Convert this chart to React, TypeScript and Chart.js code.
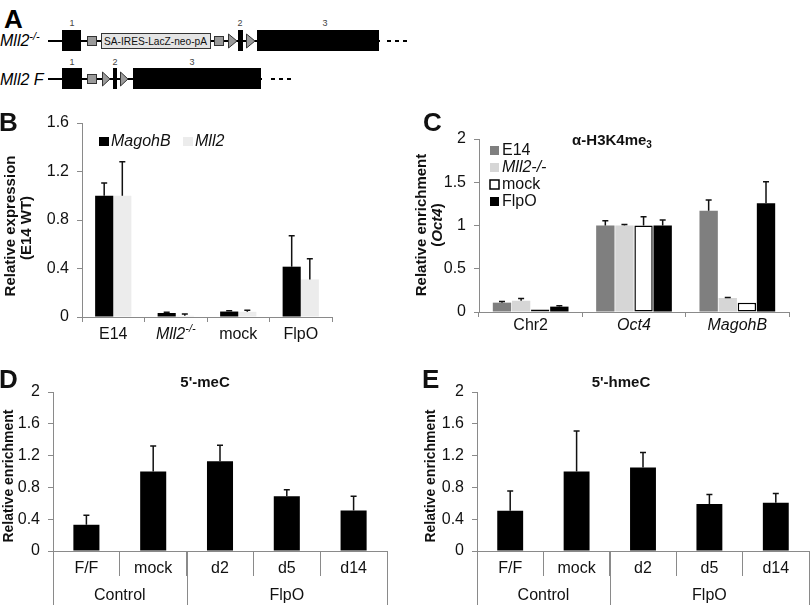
import React, { useEffect, useRef } from "react";
import { Chart, registerables } from "chart.js";
Chart.register(...registerables);

const FONT = "'Liberation Sans', Arial, Helvetica, sans-serif";
const AXIS = "#8a8a8a";
const W = 812;
const H = 605;

// ---------- Panel B ----------
const bCategories = ["E14", "Mll2-/-", "mock", "FlpO"];
const bSeriesNames = ["MagohB", "Mll2"];
const bMagohB = [1.0, 0.033, 0.045, 0.415];
const bMagohBErr = [0.105, 0.007, 0.006, 0.255];
const bMll2 = [1.0, 0.01, 0.043, 0.31];
const bMll2Err = [0.28, 0.015, 0.012, 0.17];
const bTicks = [0, 0.4, 0.8, 1.2, 1.6];

// ---------- Panel C ----------
const cCategories = ["Chr2", "Oct4", "MagohB"];
const cSeriesNames = ["E14", "Mll2-/-", "mock", "FlpO"];
const cE14 = [0.108, 1.0, 1.17];
const cE14Err = [0.012, 0.056, 0.125];
const cMll2 = [0.13, 1.0, 0.162];
const cMll2Err = [0.025, 0.012, 0.005];
const cMock = [0.03, 1.0, 0.108];
const cMockErr = [0, 0.1, 0];
const cFlpO = [0.062, 1.0, 1.257];
const cFlpOErr = [0.011, 0.064, 0.25];
const cTicks = [0, 0.5, 1, 1.5, 2];

// ---------- Panels D / E ----------
const deCategories = ["F/F", "mock", "d2", "d5", "d14"];
const deGroups = ["Control", "FlpO"];
const deGroupSizes = [2, 3];
const dValues = [0.33, 1.0, 1.13, 0.69, 0.51];
const dErr = [0.12, 0.32, 0.2, 0.08, 0.18];
const eValues = [0.505, 1.0, 1.05, 0.59, 0.606];
const eErr = [0.25, 0.51, 0.19, 0.12, 0.116];
const deTicks = [0, 0.4, 0.8, 1.2, 1.6, 2];

type Run = { t: string; italic?: boolean; bold?: boolean; size?: number; dy?: number };
type TOpts = { size: number; bold?: boolean; italic?: boolean; align?: "left" | "center" | "right"; color?: string };

function fontOf(r: Run, o: TOpts) {
  const it = r.italic ?? o.italic;
  const bd = r.bold ?? o.bold;
  return `${it ? "italic " : ""}${bd ? "bold " : ""}${r.size ?? o.size}px ${FONT}`;
}

function drawRuns(ctx: CanvasRenderingContext2D, runs: Run[], x: number, y: number, o: TOpts) {
  ctx.save();
  ctx.textBaseline = "middle";
  ctx.textAlign = "left";
  ctx.fillStyle = o.color ?? "#111";
  const widths = runs.map((r) => {
    ctx.font = fontOf(r, o);
    return ctx.measureText(r.t).width;
  });
  const total = widths.reduce((a, b) => a + b, 0);
  let cx = o.align === "center" ? x - total / 2 : o.align === "right" ? x - total : x;
  runs.forEach((r, i) => {
    ctx.font = fontOf(r, o);
    ctx.fillText(r.t, cx, y + (r.dy ?? 0));
    cx += widths[i];
  });
  ctx.restore();
}

function drawRotated(ctx: CanvasRenderingContext2D, runs: Run[], x: number, y: number, o: TOpts) {
  ctx.save();
  ctx.translate(x, y);
  ctx.rotate(-Math.PI / 2);
  drawRuns(ctx, runs, 0, 0, { ...o, align: "center" });
  ctx.restore();
}

const fmt = (v: number) => String(Math.round(v * 10) / 10);

type DS = { label: string; data: number[]; err: number[]; color: string; border?: string; borderWidth?: number };
type PanelProps = {
  categories: string[];
  datasets: DS[];
  ticks: number[];
  area: { l: number; t: number; r: number; b: number };
  catPct: number;
  barPct: number;
  xTickLen: number;
  decorate: (chart: any, ctx: CanvasRenderingContext2D) => void;
};

const Y_W = 40;

function BarPanel(p: PanelProps) {
  const ref = useRef<HTMLCanvasElement>(null);
  useEffect(() => {
    const errPlugin = {
      id: "errbars",
      afterDatasetsDraw(chart: any) {
        const ctx = chart.ctx as CanvasRenderingContext2D;
        const ys = chart.scales.y;
        ctx.save();
        ctx.strokeStyle = "#111";
        ctx.lineWidth = 1.5;
        chart.data.datasets.forEach((ds: any, di: number) => {
          const meta = chart.getDatasetMeta(di);
          meta.data.forEach((el: any, i: number) => {
            const e = ds.errors[i];
            if (!e || e <= 0) return;
            const y0 = ys.getPixelForValue(ds.data[i]);
            const y1 = ys.getPixelForValue(ds.data[i] + e);
            ctx.beginPath();
            ctx.moveTo(el.x, y0);
            ctx.lineTo(el.x, y1);
            ctx.moveTo(el.x - 3, y1);
            ctx.lineTo(el.x + 3, y1);
            ctx.stroke();
          });
        });
        ctx.restore();
      },
    };
    const decoPlugin = {
      id: "deco",
      afterDraw(chart: any) {
        p.decorate(chart, chart.ctx);
      },
    };
    const xH = p.xTickLen;
    const chart = new Chart(ref.current!, {
      type: "bar",
      data: {
        labels: p.categories,
        datasets: p.datasets.map((d) => ({
          label: d.label,
          data: d.data,
          errors: d.err,
          backgroundColor: d.color,
          borderColor: d.border ?? d.color,
          borderWidth: d.borderWidth ?? 0,
          borderSkipped: false,
          barPercentage: p.barPct,
          categoryPercentage: p.catPct,
        })) as any,
      },
      options: {
        animation: false,
        responsive: false,
        devicePixelRatio: 1,
        layout: {
          autoPadding: false,
          padding: {
            left: p.area.l - Y_W,
            top: p.area.t,
            right: W - p.area.r,
            bottom: H - p.area.b - xH,
          },
        },
        plugins: { legend: { display: false }, tooltip: { enabled: false }, title: { display: false } },
        scales: {
          x: {
            grid: { offset: true, drawOnChartArea: false, drawTicks: true, tickLength: p.xTickLen, color: AXIS, lineWidth: 1 },
            border: { color: AXIS, width: 1 },
            ticks: { display: false },
            afterFit: (s: any) => {
              s.height = xH;
            },
          },
          y: {
            min: 0,
            max: p.ticks[p.ticks.length - 1],
            afterBuildTicks: (s: any) => {
              s.ticks = p.ticks.map((v) => ({ value: v }));
            },
            afterFit: (s: any) => {
              s.width = Y_W;
            },
            ticks: {
              font: { family: FONT, size: 16 },
              color: "#111",
              padding: 8,
              callback: (v: any) => fmt(Number(v)),
            },
            grid: { drawOnChartArea: false, drawTicks: true, tickLength: 5, color: AXIS, lineWidth: 1 },
            border: { color: AXIS, width: 1 },
          },
        },
      } as any,
      plugins: [errPlugin, decoPlugin],
    });
    return () => chart.destroy();
  }, []);
  return <canvas ref={ref} width={W} height={H} style={{ position: "absolute", left: 0, top: 0 }} />;
}

function labelRuns(label: string, italicAll: boolean, superscript: boolean): Run[] {
  if (label.endsWith("-/-") && superscript) {
    return [
      { t: label.slice(0, -3), italic: true },
      { t: "-/-", italic: true, size: 11, dy: -6 },
    ];
  }
  return [{ t: label, italic: italicAll }];
}

function decorateB(chart: any, ctx: CanvasRenderingContext2D) {
  drawRuns(ctx, [{ t: "B" }], -1, 124, { size: 26, bold: true });
  drawRotated(ctx, [{ t: "Relative expression" }], 11, 226, { size: 15, bold: true });
  drawRotated(ctx, [{ t: "(E14 WT)" }], 27, 228, { size: 15, bold: true });
  const xs = chart.scales.x;
  bCategories.forEach((c, i) => {
    drawRuns(ctx, labelRuns(c, false, true), xs.getPixelForValue(i), 335, { size: 16, align: "center" });
  });
  const legendX = [99, 183];
  chart.data.datasets.forEach((ds: any, i: number) => {
    ctx.fillStyle = ds.backgroundColor;
    ctx.fillRect(legendX[i], 137, 10, 9);
    drawRuns(ctx, [{ t: bSeriesNames[i], italic: true }], legendX[i] + 12, 142, { size: 16 });
  });
}

function decorateC(chart: any, ctx: CanvasRenderingContext2D) {
  drawRuns(ctx, [{ t: "C" }], 423, 124, { size: 26, bold: true });
  drawRotated(ctx, [{ t: "Relative enrichment" }], 422, 225, { size: 15, bold: true });
  drawRotated(ctx, [{ t: "(" }, { t: "Oct4", italic: true }, { t: ")" }], 438, 225, { size: 15, bold: true });
  drawRuns(ctx, [{ t: "α-H3K4me" }, { t: "3", size: 10, dy: 4 }], 612, 141, { size: 15, bold: true, align: "center" });
  const xs = chart.scales.x;
  cCategories.forEach((c, i) => {
    drawRuns(ctx, [{ t: c, italic: i > 0 }], xs.getPixelForValue(i), 326, { size: 16, align: "center" });
  });
  const rows = [150, 167, 184, 201];
  chart.data.datasets.forEach((ds: any, i: number) => {
    const y = rows[i];
    if (ds.borderWidth > 0) {
      ctx.fillStyle = "#fff";
      ctx.fillRect(490, y - 4, 9, 9);
      ctx.strokeStyle = "#000";
      ctx.lineWidth = 1.5;
      ctx.strokeRect(490, y - 4, 9, 9);
    } else {
      ctx.fillStyle = ds.backgroundColor;
      ctx.fillRect(490, y - 4, 9, 9);
    }
    drawRuns(ctx, [{ t: cSeriesNames[i], italic: i === 1 }], 502, y + 1, { size: 16 });
  });
}

function decorateDE(letter: string, letterX: number, title: string, titleX: number, ytitleX: number) {
  return (chart: any, ctx: CanvasRenderingContext2D) => {
    drawRuns(ctx, [{ t: letter }], letterX, 381, { size: 26, bold: true });
    drawRuns(ctx, [{ t: title }], titleX, 383, { size: 15, bold: true, align: "center" });
    drawRotated(ctx, [{ t: "Relative enrichment" }], ytitleX, 476, { size: 14, bold: true });
    const xs = chart.scales.x;
    const area = chart.chartArea;
    deCategories.forEach((c, i) => {
      drawRuns(ctx, [{ t: c }], xs.getPixelForValue(i), 569, { size: 16, align: "center" });
    });
    const boundary = (k: number) => {
      if (k <= 0) return area.left;
      if (k >= deCategories.length) return area.right;
      return (xs.getPixelForValue(k - 1) + xs.getPixelForValue(k)) / 2;
    };
    let start = 0;
    ctx.save();
    ctx.strokeStyle = AXIS;
    ctx.lineWidth = 1;
    deGroups.forEach((g, gi) => {
      const end = start + deGroupSizes[gi];
      const x0 = boundary(start);
      const x1 = boundary(end);
      ctx.beginPath();
      ctx.moveTo(Math.round(x0) + 0.5, area.bottom);
      ctx.lineTo(Math.round(x0) + 0.5, H);
      ctx.moveTo(Math.round(x1) + 0.5, area.bottom);
      ctx.lineTo(Math.round(x1) + 0.5, H);
      ctx.stroke();
      drawRuns(ctx, [{ t: g }], (x0 + x1) / 2, 596, { size: 16, align: "center" });
      start = end;
    });
    ctx.restore();
  };
}

function GeneDiagram() {
  const f = { fontFamily: FONT };
  const gray = "#9a9a9a";
  const stroke = "#333";
  return (
    <svg width={W} height={100} style={{ position: "absolute", left: 0, top: 0 }}>
      <text x={4} y={28} fontSize={26} fontWeight="bold" {...f}>A</text>
      {/* Row 1: Mll2 -/- */}
      <text x={0} y={46} fontSize={16} fontStyle="italic" {...f}>
        Mll2<tspan dy={-6} fontSize={11}>-/-</tspan>
      </text>
      <line x1={48} y1={41} x2={380} y2={41} stroke="#000" strokeWidth={2} />
      <line x1={387} y1={41} x2={410} y2={41} stroke="#000" strokeWidth={2} strokeDasharray="4 4" />
      <rect x={62} y={30} width={19} height={21} fill="#000" />
      <rect x={87.5} y={36.5} width={9} height={9} fill={gray} stroke={stroke} />
      <rect x={101.5} y={33.5} width={109} height={15} fill="#e4e4e4" stroke={stroke} />
      <text x={104} y={45} fontSize={11.5} textLength={103} lengthAdjust="spacingAndGlyphs" fill="#111" {...f}>SA-IRES-LacZ-neo-pA</text>
      <rect x={214.5} y={36.5} width={9} height={9} fill={gray} stroke={stroke} />
      <polygon points="228.5,34 237,41 228.5,48" fill={gray} stroke={stroke} />
      <rect x={238} y={30} width={5} height={21} fill="#000" />
      <polygon points="246.5,34 255,41 246.5,48" fill={gray} stroke={stroke} />
      <rect x={257} y={30} width={122} height={21} fill="#000" />
      <text x={72} y={26} fontSize={9} textAnchor="middle" fill="#444" {...f}>1</text>
      <text x={240} y={26} fontSize={9} textAnchor="middle" fill="#444" {...f}>2</text>
      <text x={325} y={26} fontSize={9} textAnchor="middle" fill="#444" {...f}>3</text>
      {/* Row 2: Mll2 F */}
      <text x={0} y={85} fontSize={16} fontStyle="italic" {...f}>Mll2 F</text>
      <line x1={48} y1={79} x2={262} y2={79} stroke="#000" strokeWidth={2} />
      <line x1={271} y1={79} x2={295} y2={79} stroke="#000" strokeWidth={2} strokeDasharray="4 4" />
      <rect x={62} y={68} width={20} height={21} fill="#000" />
      <rect x={87.5} y={74.5} width={9} height={9} fill={gray} stroke={stroke} />
      <polygon points="102.5,72 110,79 102.5,86" fill={gray} stroke={stroke} />
      <rect x={113} y={68} width={4} height={21} fill="#000" />
      <polygon points="120.5,72 128,79 120.5,86" fill={gray} stroke={stroke} />
      <rect x={133} y={68} width={128} height={21} fill="#000" />
      <text x={72} y={65} fontSize={9} textAnchor="middle" fill="#444" {...f}>1</text>
      <text x={115} y={65} fontSize={9} textAnchor="middle" fill="#444" {...f}>2</text>
      <text x={192} y={65} fontSize={9} textAnchor="middle" fill="#444" {...f}>3</text>
    </svg>
  );
}

export default function App() {
  return (
    <div style={{ position: "absolute", left: 0, top: 0, width: W, height: H, background: "#fff", overflow: "hidden" }}>
      <GeneDiagram />
      <BarPanel
        categories={bCategories}
        datasets={[
          { label: bSeriesNames[0], data: bMagohB, err: bMagohBErr, color: "#000000" },
          { label: bSeriesNames[1], data: bMll2, err: bMll2Err, color: "#ececec" },
        ]}
        ticks={bTicks}
        area={{ l: 82, t: 123, r: 332, b: 317 }}
        catPct={0.58}
        barPct={1}
        xTickLen={5}
        decorate={decorateB}
      />
      <BarPanel
        categories={cCategories}
        datasets={[
          { label: cSeriesNames[0], data: cE14, err: cE14Err, color: "#7f7f7f" },
          { label: cSeriesNames[1], data: cMll2, err: cMll2Err, color: "#d6d6d6" },
          { label: cSeriesNames[2], data: cMock, err: cMockErr, color: "#ffffff", border: "#000000", borderWidth: 1.5 },
          { label: cSeriesNames[3], data: cFlpO, err: cFlpOErr, color: "#000000" },
        ]}
        ticks={cTicks}
        area={{ l: 479, t: 139, r: 789, b: 312 }}
        catPct={0.74}
        barPct={0.96}
        xTickLen={5}
        decorate={decorateC}
      />
      <BarPanel
        categories={deCategories}
        datasets={[{ label: "5'-meC", data: dValues, err: dErr, color: "#000000" }]}
        ticks={deTicks}
        area={{ l: 53, t: 392, r: 387, b: 551 }}
        catPct={0.39}
        barPct={1}
        xTickLen={25}
        decorate={decorateDE("D", -1, "5'-meC", 205, 9)}
      />
      <BarPanel
        categories={deCategories}
        datasets={[{ label: "5'-hmeC", data: eValues, err: eErr, color: "#000000" }]}
        ticks={deTicks}
        area={{ l: 477, t: 392, r: 809, b: 551 }}
        catPct={0.39}
        barPct={1}
        xTickLen={25}
        decorate={decorateDE("E", 422, "5'-hmeC", 621, 431)}
      />
    </div>
  );
}
